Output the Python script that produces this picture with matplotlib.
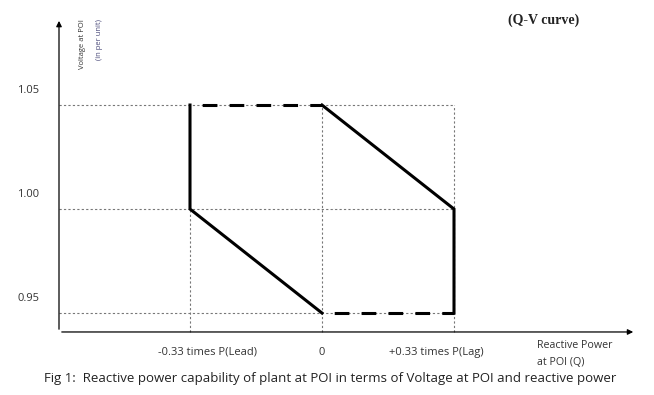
import matplotlib.pyplot as plt

# Q-V capability curve (reactive power vs voltage at POI)
q_ticks = [-0.33, 0.0, 0.33]
q_labels = ['-0.33 times P(Lead)', '0', '+0.33 times P(Lag)']
v_ticks = [0.95, 1.00, 1.05]
v_labels = ['0.95', '1.00', '1.05']

# solid boundary (two pieces)
lead_q = [-0.33, -0.33, 0.0]
lead_v = [1.05, 1.00, 0.95]
lag_q = [0.0, 0.33, 0.33]
lag_v = [1.05, 1.00, 0.95]
# dashed boundary pieces
top_q = [-0.33, 0.0]
top_v = [1.05, 1.05]
bot_q = [0.0, 0.33]
bot_v = [0.95, 0.95]

font = 'Open Sans'
fig = plt.figure(figsize=(6.54, 3.95), dpi=100)
ax = fig.add_axes([0, 0, 1, 1])
ax.set_xlim(-0.805, 0.83)
ax.set_ylim(0.9106, 1.1005)
ax.axis('off')

x0 = -0.6575   # position of vertical axis
y0 = 0.9409    # position of horizontal axis

# guide lines (grey dotted)
grid = dict(color='#777777', lw=0.8, ls=(0, (2, 2)))
for v in v_ticks:
    ax.plot([x0, 0.33], [v, v], **grid)
ax.plot([-0.33, -0.33], [y0, 1.00], **grid)
ax.plot([0.0, 0.0], [y0, 1.05], **grid)
ax.plot([0.33, 0.33], [y0, 1.05], **grid)

# axes arrows
ax.annotate('', xy=(0.785, y0), xytext=(x0, y0),
            arrowprops=dict(arrowstyle='-|>', color='black', lw=0.9, mutation_scale=8))
ax.annotate('', xy=(x0, 1.0918), xytext=(x0, y0),
            arrowprops=dict(arrowstyle='-|>', color='black', lw=0.9, mutation_scale=8))

# capability curve
ax.plot(lead_q, lead_v, color='black', lw=2.2, solid_joinstyle='miter')
ax.plot(lag_q, lag_v, color='black', lw=2.2, solid_joinstyle='miter')
ax.plot(top_q, top_v, color='black', lw=2.2, ls=(4.8, (4.8, 4.0)))
ax.plot(bot_q, bot_v, color='black', lw=2.2, ls=(4.8, (4.8, 4.0)))

# tick labels
for v, lab in zip(v_ticks, v_labels):
    ax.text(-0.735, v + 0.0068, lab, fontsize=8, family=font, color='#333333',
            ha='center', va='center')
for q, lab, dx in zip(q_ticks, q_labels, [0.043, 0.0, -0.045]):
    ax.text(q + dx, 0.9312, lab, fontsize=8, family=font, color='#333333',
            ha='center', va='center')

ax.text(0.5375, 0.9342, 'Reactive Power', fontsize=7.7, family=font, color='#333333',
        ha='left', va='center')
ax.text(0.5375, 0.926, 'at POI (Q)', fontsize=7.7, family=font, color='#333333',
        ha='left', va='center')

ax.text(-0.6, 1.0915, 'Voltage at POI', fontsize=5.5, family=font, color='#333333',
        rotation=90, ha='center', va='top')
ax.text(-0.555, 1.0915, '(in per unit)', fontsize=5.5, family=font, color='#4a4a7a',
        rotation=90, ha='center', va='top')

ax.text(0.555, 1.091, '(Q-V curve)', fontsize=10, family='Liberation Serif', weight='bold',
        color='#222222', ha='center', va='center')

fig.text(0.067, 0.043, 'Fig 1:  Reactive power capability of plant at POI in terms of Voltage at POI and reactive power',
         fontsize=9.5, family=font, color='#222222', ha='left', va='center')

plt.savefig('out.png', dpi=100)
